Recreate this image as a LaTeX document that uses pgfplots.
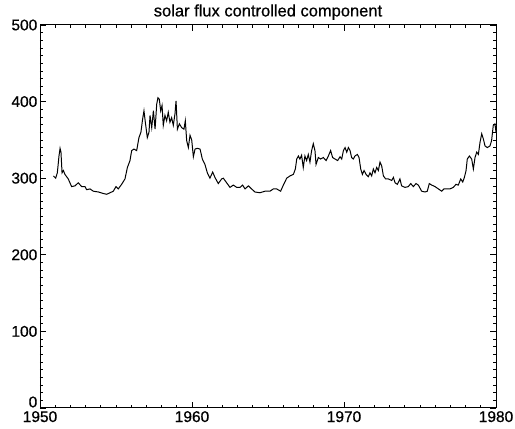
\documentclass[border=0pt]{standalone}
\usepackage{pgfplots}
\pgfplotsset{compat=1.18}
\usepackage{fontspec}
\setmainfont{Liberation Sans}[FakeBold=0.6]
\pgfplotstableread{
year val
1950.88 303
1951.03 300
1951.14 307
1951.25 329
1951.32 339
1951.38 334
1951.45 307
1951.54 310
1951.64 305
1951.86 299
1952.08 289
1952.30 290
1952.52 294
1952.74 289
1952.96 289
1953.07 285
1953.29 286
1953.51 283
1953.84 282
1954.17 280
1954.39 279
1954.61 281
1954.82 283
1955.00 289
1955.15 286
1955.37 292
1955.59 299
1955.75 314
1955.92 323
1956.03 336
1956.18 338
1956.36 336
1956.51 353
1956.64 360
1956.75 377
1956.84 388
1956.93 373
1957.06 353
1957.17 360
1957.24 382
1957.35 366
1957.46 388
1957.57 364
1957.68 397
1957.76 405
1957.85 403
1957.94 388
1958.03 395
1958.11 369
1958.22 382
1958.33 375
1958.44 386
1958.55 373
1958.66 379
1958.77 369
1958.88 384
1958.95 401
1959.04 364
1959.17 371
1959.32 366
1959.47 364
1959.56 375
1959.65 349
1959.76 340
1959.87 356
1959.98 350
1960.09 328
1960.20 338
1960.35 339
1960.53 338
1960.68 325
1960.85 318
1961.01 307
1961.18 300
1961.36 308
1961.51 301
1961.73 293
1961.95 299
1962.06 300
1962.28 294
1962.50 288
1962.72 291
1962.94 288
1963.16 288
1963.33 291
1963.49 286
1963.71 290
1963.92 286
1964.14 282
1964.47 281
1964.80 283
1965.13 283
1965.35 286
1965.57 286
1965.83 283
1966.01 291
1966.23 300
1966.45 303
1966.67 305
1966.80 312
1966.89 325
1967.00 329
1967.10 325
1967.21 330
1967.32 314
1967.43 329
1967.54 323
1967.65 331
1967.76 321
1967.87 336
1967.98 345
1968.09 336
1968.16 318
1968.31 327
1968.46 325
1968.64 327
1968.82 323
1968.97 329
1969.12 336
1969.25 327
1969.41 325
1969.58 323
1969.74 328
1969.85 325
1969.96 336
1970.07 340
1970.18 334
1970.29 340
1970.40 336
1970.50 327
1970.61 325
1970.72 329
1970.88 331
1970.99 327
1971.10 312
1971.21 305
1971.32 310
1971.45 305
1971.60 302
1971.71 307
1971.82 303
1971.93 312
1972.04 307
1972.15 314
1972.26 310
1972.37 321
1972.48 316
1972.59 303
1972.74 299
1972.92 299
1973.14 297
1973.25 301
1973.36 294
1973.51 292
1973.68 299
1973.79 290
1974.01 288
1974.23 289
1974.39 293
1974.56 289
1974.74 293
1974.89 291
1975.11 283
1975.33 282
1975.48 283
1975.61 293
1975.77 291
1975.99 289
1976.21 286
1976.43 283
1976.58 286
1976.75 286
1976.97 286
1977.19 288
1977.37 292
1977.52 291
1977.68 299
1977.81 295
1977.92 301
1978.03 310
1978.11 325
1978.25 329
1978.40 325
1978.51 312
1978.62 327
1978.73 334
1978.84 331
1978.95 347
1979.06 358
1979.17 351
1979.28 342
1979.43 340
1979.60 342
1979.71 349
1979.82 369
1979.93 371
1980.00 360
}\solar
\begin{document}
\begin{tikzpicture}
\begin{axis}[
  scale only axis,
  width=456bp, height=383bp,
  xmin=1950, xmax=1980, ymin=0, ymax=500,
  xtick={1950,1960,1970,1980},
  xticklabels={1950,1960,1970,1980},
  ytick={100,200,300,400,500},
  yticklabels={100,200,300,400,500},
  extra y ticks={0},
  extra y tick labels={0},
  extra y tick style={yticklabel style={yshift=6bp}},
  minor x tick num=9,
  minor ytick={10,20,...,90,110,120,...,190,210,220,...,290,310,320,...,390,410,420,...,490},
  tick align=inside,
  major tick length=6bp,
  minor tick length=3bp,
  tick style={black, line width=0.7pt},
  axis line style={line width=1pt},
  xticklabel style={font=\fontsize{15.5bp}{17bp}\selectfont, inner sep=1bp, yshift=-2bp},
  yticklabel style={font=\fontsize{15.5bp}{17bp}\selectfont, inner sep=2.5bp},
  title={solar flux controlled component},
  title style={font=\fontsize{16.5bp}{18bp}\selectfont, inner sep=0pt, yshift=-1bp},
]
\addplot[black, line width=1pt, mark=none] table[x=year, y=val] {\solar};
\end{axis}
\path[use as bounding box] ([shift={(-40bp,-21bp)}]current axis.south west) rectangle ([shift={(19bp,25bp)}]current axis.north east);
\end{tikzpicture}
\end{document}
